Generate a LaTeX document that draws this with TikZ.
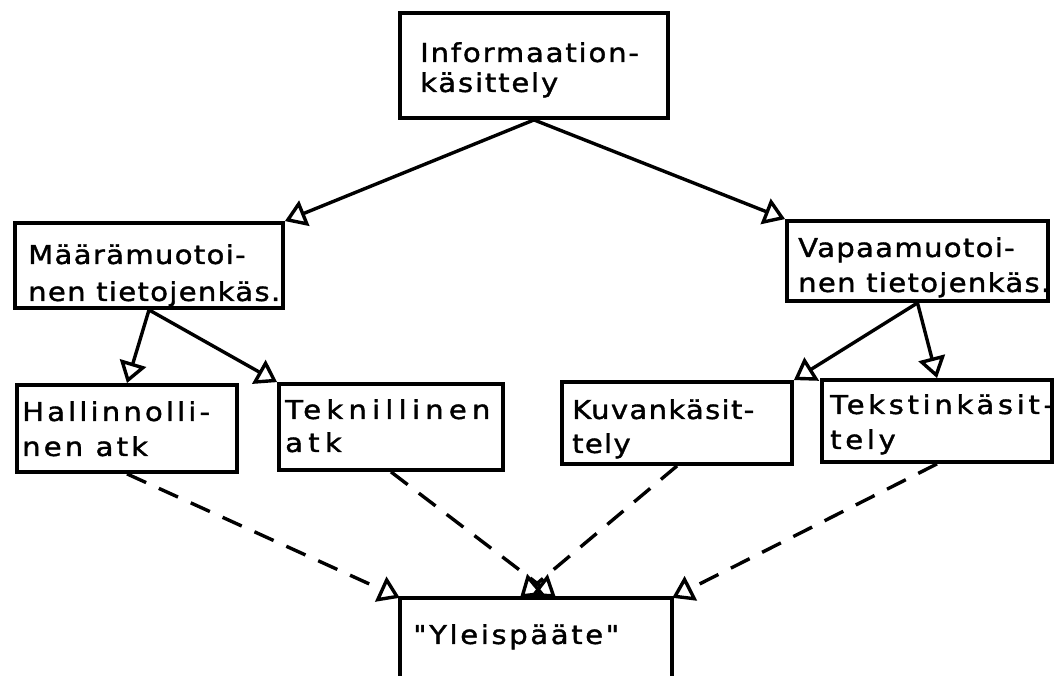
\documentclass[tikz,border=0pt]{standalone}
\usepackage{fontspec}
\newfontfamily\typew[FakeStretch=1.12,FakeBold=1.4]{DejaVu Sans}
\usetikzlibrary{arrows.meta}
\begin{document}
\begin{tikzpicture}[x=1pt,y=-1pt,
  box/.style={draw, line width=3.8pt, rectangle, inner sep=0pt},
  txt/.style 2 args={anchor=north west, inner sep=0pt, align=left,
    font=\typew\addfontfeature{LetterSpace=#2}\fontsize{26}{#1}\selectfont},
  conn/.style={line width=3.4pt, -{Triangle[open,length=21pt,width=27pt]}},
  dconn/.style={conn, dash pattern=on 21pt off 14pt}
]
\useasboundingbox (0,0) rectangle (1062,676);
\fill[white] (0,0) rectangle (1062,676);

% boxes
\node[box, minimum width=268pt, minimum height=105pt] (top) at (534,65.5) {};
\node[box, minimum width=268pt, minimum height=85pt] (maara) at (149,265.5) {};
\node[box, minimum width=261pt, minimum height=80pt] (vapaa) at (917.5,261) {};
\node[box, minimum width=220pt, minimum height=87pt] (hall) at (127,428.5) {};
\node[box, minimum width=224pt, minimum height=86pt] (tekn) at (391,427) {};
\node[box, minimum width=230pt, minimum height=82pt] (kuvan) at (677,423) {};
\node[box, minimum width=230pt, minimum height=82pt] (tekst) at (937,421) {};
\node[minimum width=272pt, minimum height=110pt, inner sep=0pt] (yleis) at (536,653) {};
\draw[line width=3.8pt] (yleis.south west) -- (yleis.north west) -- (yleis.north east) -- (yleis.south east);

% texts
\node[txt={30}{7}] (ttop) at (420,42) {Informaation-\\käsittely};
\node[txt={37}{5}] (tmaara) at (28,244) {Määrämuotoi-\\nen tietojenkäs.};
\node[txt={35}{5}] (tvapaa) at (798,237) {Vapaamuotoi-\\nen tietojenkäs.};
\node[txt={35}{12}] (thall) at (22,401) {Hallinnolli-\\nen atk};
\node[txt={33}{20}] (ttekn) at (285,399) {Teknillinen\\atk};
\node[txt={34}{5}] (tkuvan) at (572,399) {Kuvankäsit-\\tely};
\node[txt={35}{14}] (ttekst) at (830,394) {Tekstinkäsit-\\tely};
\node[txt={30}{10}] (tyleis) at (413,624) {"Yleispääte"};

% connectors
\draw[conn] (top.south) -- (maara.north east);
\draw[conn] (top.south) -- (vapaa.north west);
\draw[conn] (maara.south) -- (hall.north);
\draw[conn] (maara.south) -- (tekn.north west);
\draw[conn] (vapaa.south) -- (kuvan.north east);
\draw[conn] (vapaa.south) -- (tekst.north);
\draw[dconn] (hall.south) -- (yleis.north west);
\draw[dconn] (tekn.south) -- ([xshift=20pt]yleis.north);
\draw[dconn] (kuvan.south) -- ([xshift=-16pt]yleis.north);
\draw[dconn] (tekst.south) -- (yleis.north east);
\end{tikzpicture}
\end{document}
